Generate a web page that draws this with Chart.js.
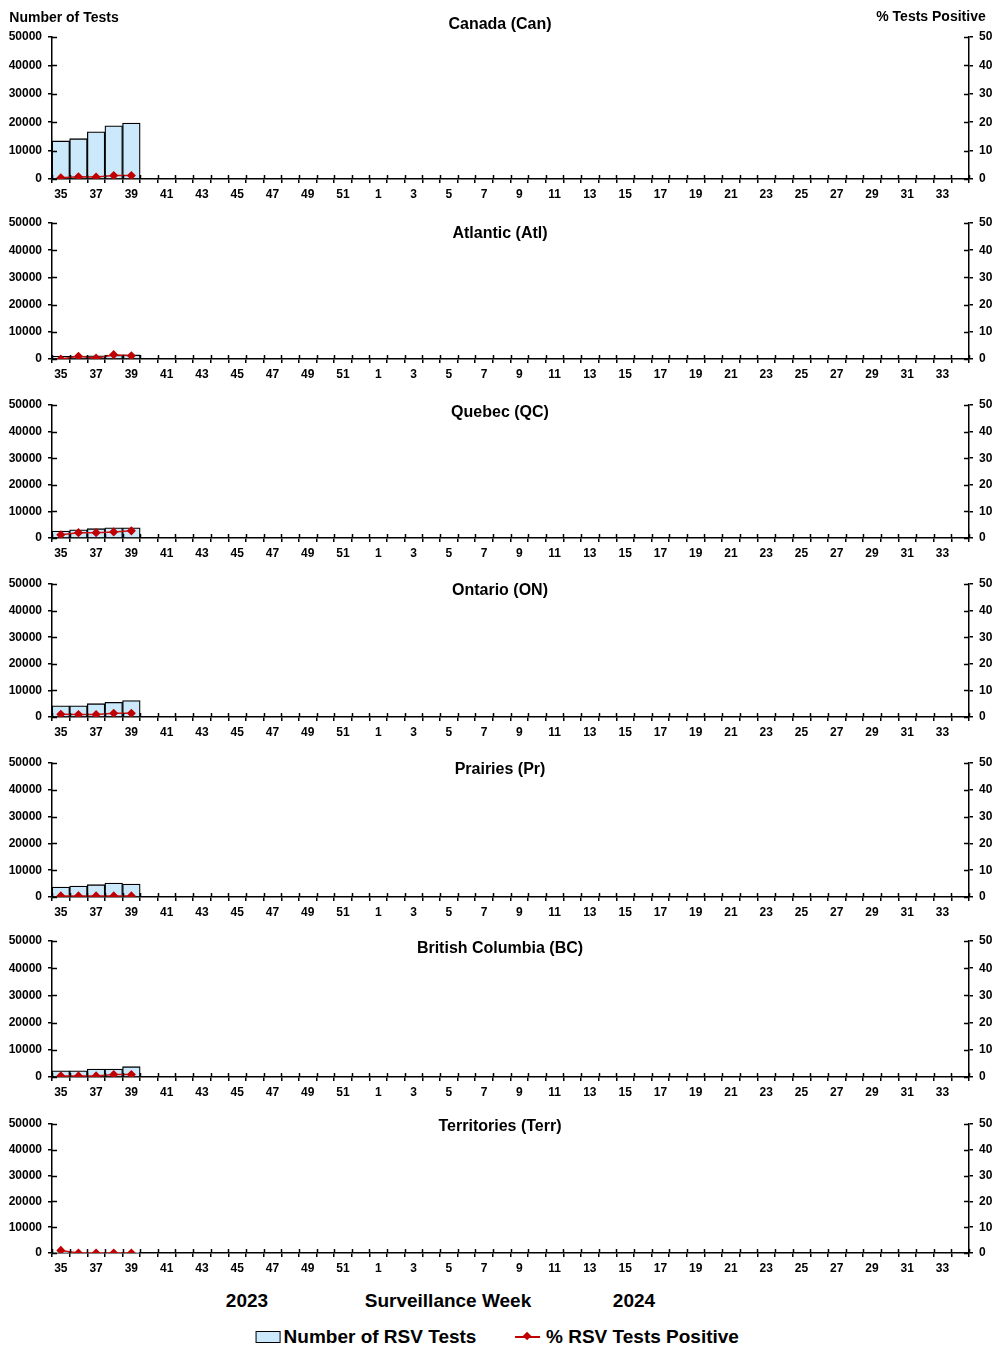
<!DOCTYPE html>
<html lang="en">
<head>
  <meta charset="UTF-8" />
  <title>RSV tests by region</title>
  <script src="https://cdn.jsdelivr.net/npm/chart.js"></script>
  <style>
    body {
      margin: 0;
      background: #fff;
      font-family: "Liberation Sans", Arial, sans-serif;
      font-weight: bold;
      color: #000;
    }
    #page {
      position: relative;
      width: 1002px;
      height: 1355px;
      overflow: hidden;
    }
    #page canvas {
      position: absolute;
      left: 0;
    }
    .txt {
      position: absolute;
      white-space: nowrap;
      transform: translate(-50%, -50%);
    }
    .title { font-size: 16px; }
    .head { font-size: 14px; }
    .foot { font-size: 19px; }
    .legend { font-size: 19px; display: flex; align-items: center; }
    .swatch {
      display: inline-block;
      width: 23px;
      height: 10px;
      background: #cce9fb;
      border: 1px solid #000;
      margin-right: 3px;
    }
    .lineSwatch {
      position: relative;
      display: inline-block;
      width: 25px;
      height: 2px;
      background: #c00000;
      margin-right: 6px;
    }
    .lineSwatch::after {
      content: "";
      position: absolute;
      left: 9px;
      top: -3px;
      width: 6px;
      height: 6px;
      background: #c00000;
      transform: rotate(45deg);
    }
  </style>
</head>
<body>
<div id="page"></div>

<script>
  // surveillance weeks 35 (2023) .. 34 (2024)
  const weeks = ["35","36","37","38","39","40","41","42","43","44","45","46","47","48","49","50","51","52",
    "1","2","3","4","5","6","7","8","9","10","11","12","13","14","15","16","17",
    "18","19","20","21","22","23","24","25","26","27","28","29","30","31","32","33","34"];

  const regions = ["Canada (Can)", "Atlantic (Atl)", "Quebec (QC)", "Ontario (ON)",
    "Prairies (Pr)", "British Columbia (BC)", "Territories (Terr)"];

  // number of RSV tests per week (only weeks 35-39 reported so far)
  const testsCan  = [13400, 14200, 16600, 18700, 19700];
  const testsAtl  = [1000, 1100, 1200, 1400, 1500];
  const testsQC   = [2600, 3100, 3500, 3800, 3800];
  const testsON   = [4200, 4200, 5000, 5500, 6200];
  const testsPr   = [3700, 4100, 4600, 5200, 4800];
  const testsBC   = [2300, 2300, 2900, 2900, 3800];
  const testsTerr = [60, 50, 40, 50, 40];

  // % RSV tests positive
  const posCan  = [0.4, 0.8, 0.7, 1.2, 1.2];
  const posAtl  = [0.0, 1.0, 0.3, 1.6, 1.2];
  const posQC   = [1.2, 2.0, 2.0, 2.3, 2.7];
  const posON   = [1.0, 0.9, 0.9, 1.4, 1.4];
  const posPr   = [0.4, 0.4, 0.4, 0.4, 0.4];
  const posBC   = [0.4, 0.4, 0.4, 0.9, 0.9];
  const posTerr = [1.0, 0.0, 0.0, 0.0, 0.0];

  const testsAll = [testsCan, testsAtl, testsQC, testsON, testsPr, testsBC, testsTerr];
  const posAll   = [posCan, posAtl, posQC, posON, posPr, posBC, posTerr];

  // plot area top / bottom of each panel, and title centre
  const panelTop    = [37, 223, 405, 584, 763, 941, 1124];
  const panelBottom = [179, 359, 538, 717, 897, 1077, 1253];
  const titleY      = [24, 233, 412, 590, 769, 948, 1126];

  const PAD_TOP = 20, X_AXIS_H = 30, LEFT_W = 52, RIGHT_W = 33;

  Chart.defaults.font.family = "'Liberation Sans', Arial, sans-serif";
  Chart.defaults.font.weight = "bold";
  Chart.defaults.font.size = 12;
  Chart.defaults.color = "#000";

  // tick marks that cross the axis lines, like the original
  const crossTicks = {
    id: "crossTicks",
    afterDraw(chart) {
      const { ctx, chartArea: a, scales } = chart;
      ctx.save();
      ctx.strokeStyle = "#000";
      ctx.lineWidth = 1.5;
      ctx.beginPath();
      for (let i = 0; i <= weeks.length; i++) {
        const px = Math.round(scales.x.getPixelForValue(i - 0.5)) + 0.5;
        ctx.moveTo(px, a.bottom - 4);
        ctx.lineTo(px, a.bottom);
      }
      scales.y.ticks.forEach(t => {
        const py = Math.round(scales.y.getPixelForValue(t.value)) + 0.5;
        ctx.moveTo(a.left, py);
        ctx.lineTo(a.left + 5, py);
      });
      scales.y1.ticks.forEach(t => {
        const py = Math.round(scales.y1.getPixelForValue(t.value)) + 0.5;
        ctx.moveTo(a.right - 5, py);
        ctx.lineTo(a.right, py);
      });
      ctx.stroke();
      ctx.restore();
    }
  };

  const page = document.getElementById("page");

  function addText(text, cls, x, y) {
    const d = document.createElement("div");
    d.className = "txt " + cls;
    d.textContent = text;
    d.style.left = x + "px";
    d.style.top = y + "px";
    page.appendChild(d);
    return d;
  }

  const axisGrid = {
    display: true,
    drawOnChartArea: false,
    drawTicks: true,
    tickLength: 4,
    color: "#000",
    lineWidth: 1.5
  };
  const axisBorder = { display: true, color: "#000", width: 1.5 };

  regions.forEach((name, i) => {
    const h = panelBottom[i] - panelTop[i] + PAD_TOP + X_AXIS_H;
    const canvas = document.createElement("canvas");
    canvas.width = 1002;
    canvas.height = h;
    canvas.style.top = (panelTop[i] - PAD_TOP) + "px";
    page.appendChild(canvas);

    new Chart(canvas.getContext("2d"), {
      type: "bar",
      data: {
        labels: weeks,
        datasets: [
          {
            label: "% RSV Tests Positive",
            type: "line",
            data: posAll[i],
            yAxisID: "y1",
            borderColor: "#cc1010",
            borderWidth: 1.5,
            pointStyle: "rectRot",
            pointRadius: 3.5,
            pointBackgroundColor: "#c00000",
            pointBorderColor: "#c00000",
            order: 1
          },
          {
            label: "Number of RSV Tests",
            data: testsAll[i],
            yAxisID: "y",
            backgroundColor: "#cce9fb",
            borderColor: "#000",
            borderWidth: 1.3,
            barPercentage: 1,
            categoryPercentage: 1,
            order: 2
          }
        ]
      },
      options: {
        responsive: false,
        animation: false,
        layout: { padding: { top: PAD_TOP, left: 0, right: 0, bottom: 0 } },
        plugins: {
          legend: { display: false },
          tooltip: { enabled: false },
          title: { display: false }
        },
        scales: {
          x: {
            grid: axisGrid,
            border: axisBorder,
            ticks: {
              autoSkip: false,
              maxRotation: 0,
              padding: 4,
              callback: (v, idx) => (idx % 2 === 0 ? weeks[idx] : "")
            },
            afterFit: s => { s.height = X_AXIS_H; }
          },
          y: {
            position: "left",
            min: 0,
            max: 50000,
            grid: axisGrid,
            border: axisBorder,
            ticks: { stepSize: 10000, padding: 6, callback: v => String(v) },
            afterFit: s => { s.width = LEFT_W; }
          },
          y1: {
            position: "right",
            min: 0,
            max: 50,
            grid: axisGrid,
            border: axisBorder,
            ticks: { stepSize: 10, padding: 6, callback: v => String(v) },
            afterFit: s => { s.width = RIGHT_W; }
          }
        }
      },
      plugins: [crossTicks]
    });

    addText(name, "title", 500, titleY[i]);
  });

  addText("Number of Tests", "head", 64, 17);
  addText("%  Tests Positive", "head", 931, 16);

  addText("2023", "foot", 247, 1301);
  addText("Surveillance Week", "foot", 448, 1301);
  addText("2024", "foot", 634, 1301);

  const leg1 = addText("", "legend", 366, 1337);
  leg1.innerHTML = '<span class="swatch"></span>Number of RSV Tests';
  const leg2 = addText("", "legend", 627, 1337);
  leg2.innerHTML = '<span class="lineSwatch"></span>% RSV Tests Positive';
</script>
</body>
</html>
